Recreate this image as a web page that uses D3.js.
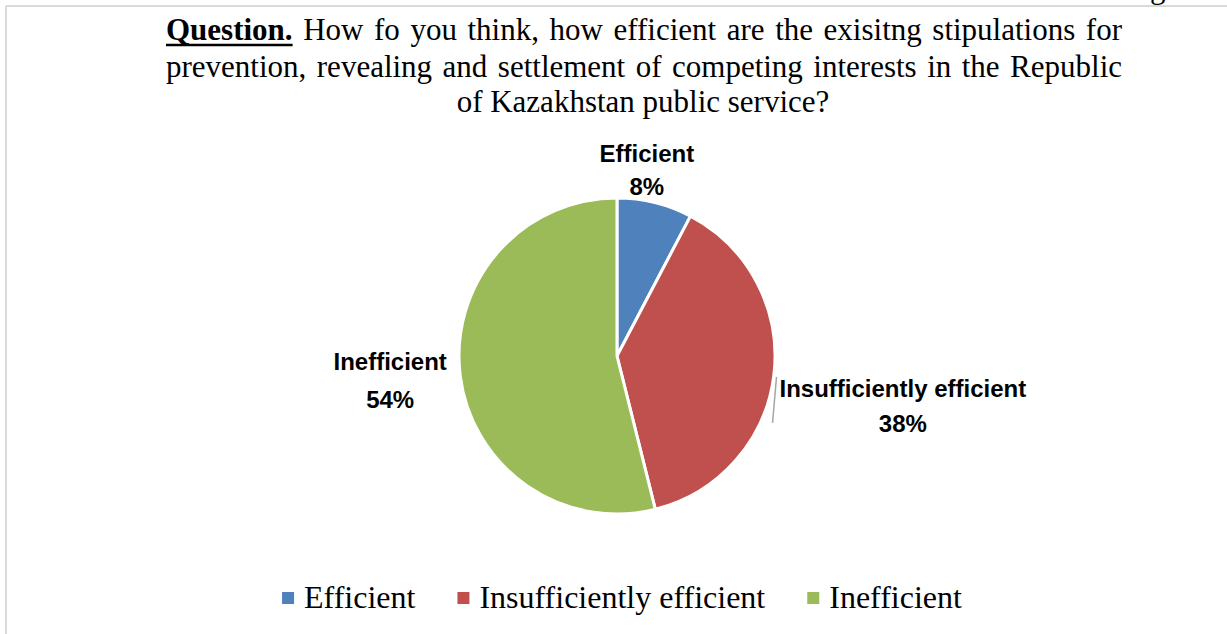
<!DOCTYPE html>
<html lang="en">
<head>
<meta charset="utf-8">
<style>
    body { margin: 0; background: #fff; }
    svg { display: block; }
    .title { font-family: "Liberation Serif", "Times New Roman", serif; font-size: 31px; fill: #000; }
    .lbl { font-family: "Liberation Sans", Arial, sans-serif; font-weight: bold; font-size: 24px; fill: #000; text-anchor: middle; }
    .legend text { font-family: "Liberation Serif", "Times New Roman", serif; font-size: 32px; fill: #000; }
</style>
<script src="https://cdn.jsdelivr.net/npm/d3@7"></script>
</head>
<body>
<svg width="1227" height="634"></svg>
<script>
    // data
    var categories = ["Efficient", "Insufficiently efficient", "Inefficient"];
    var values = [7.7, 38.4, 53.9];
    var pctLabels = ["8%", "38%", "54%"];
    var colors = ["#4F81BD", "#C0504D", "#9BBB59"];

    var titleLines = [
        ["How", "fo", "you", "think,", "how", "efficient", "are", "the", "exisitng", "stipulations", "for"],
        ["prevention,", "revealing", "and", "settlement", "of", "competing", "interests", "in", "the", "Republic"],
        ["of Kazakhstan public service?"]
    ];

    var svg = d3.select("svg"),
        width = +svg.attr("width"),
        height = +svg.attr("height");

    // frame of the chart (cropped)
    svg.append("line").attr("x1", 6).attr("y1", 6).attr("x2", width).attr("y2", 6)
        .attr("stroke", "#d9d9d9").attr("stroke-width", 2);
    svg.append("line").attr("x1", 6).attr("y1", 6).attr("x2", 6).attr("y2", height)
        .attr("stroke", "#d9d9d9").attr("stroke-width", 2);
    // descender of a letter cut off above
    svg.append("text").attr("class", "title").attr("x", 1150).attr("y", -2).text("g");

    // title, justified between left and right
    var tLeft = 166, tRight = 1122, baselines = [40, 77, 112];

    function justify(words, y, lead) {
        var nodes = [];
        if (lead) {
            var q = svg.append("text").attr("class", "title").attr("y", y)
                .style("font-weight", "bold").text(lead);
            nodes.push(q);
        }
        words.forEach(function(w) {
            nodes.push(svg.append("text").attr("class", "title").attr("y", y).text(w));
        });
        var widths = nodes.map(function(n) { return n.node().getComputedTextLength(); });
        var total = d3.sum(widths);
        var gap = (tRight - tLeft - total) / (nodes.length - 1);
        var x = tLeft;
        nodes.forEach(function(n, i) {
            n.attr("x", x);
            x += widths[i] + gap;
        });
        if (lead) {
            svg.append("line").attr("x1", tLeft).attr("x2", tLeft + widths[0])
                .attr("y1", y + 5).attr("y2", y + 5)
                .attr("stroke", "#000").attr("stroke-width", 2.5);
        }
    }
    justify(titleLines[0], baselines[0], "Question.");
    justify(titleLines[1], baselines[1]);
    svg.append("text").attr("class", "title").attr("x", (tLeft + tRight) / 2 - 1)
        .attr("y", baselines[2]).attr("text-anchor", "middle").text(titleLines[2][0]);

    // pie
    var cx = 617, cy = 356, radius = 158;
    var g = svg.append("g").attr("transform", "translate(" + cx + "," + cy + ")");

    var pie = d3.pie().sort(null).value(function(d) { return d; });
    var arcs = pie(values);
    var path = d3.arc().outerRadius(radius).innerRadius(0);

    g.selectAll(".slice")
        .data(arcs)
        .enter().append("path")
        .attr("class", "slice")
        .attr("d", path)
        .attr("fill", function(d, i) { return colors[i]; })
        .attr("stroke", "#fff")
        .attr("stroke-width", 3)
        .attr("stroke-linejoin", "round");

    // data labels placed around the outer edge
    var outer = d3.arc().outerRadius(radius).innerRadius(radius);
    var labelShift = [[-8, -41], [129, 22], [-70, -5]];
    var lineGap = [33, 35, 38];

    arcs.forEach(function(d, i) {
        var c = outer.centroid(d);
        var x = c[0] + labelShift[i][0], y = c[1] + labelShift[i][1];
        var t = g.append("text").attr("class", "lbl").attr("x", x).attr("y", y);
        t.append("tspan").attr("x", x).attr("y", y).text(categories[i]);
        t.append("tspan").attr("x", x).attr("y", y + lineGap[i]).text(pctLabels[i]);
        if (i === 1) {
            var w = t.node().getBBox();
            g.append("line")
                .attr("x1", w.x - 3).attr("y1", y - 20)
                .attr("x2", w.x - 7).attr("y2", y + 26)
                .attr("stroke", "#a6a6a6").attr("stroke-width", 1.5);
        }
    });

    // legend
    var legend = svg.append("g").attr("class", "legend");
    var items = legend.selectAll("g").data(categories).enter().append("g");
    items.append("rect").attr("width", 12).attr("height", 12).attr("y", 592)
        .attr("fill", function(d, i) { return colors[i]; });
    items.append("text").attr("x", 22).attr("y", 608).text(function(d) { return d; });

    var lx = 0, pos = [];
    items.each(function() {
        var tw = d3.select(this).select("text").node().getComputedTextLength();
        pos.push(lx);
        lx += 22 + tw + 42;
    });
    var legendW = lx - 42, start = 622 - legendW / 2;
    items.attr("transform", function(d, i) { return "translate(" + (start + pos[i]) + ",0)"; });
</script>
</body>
</html>
